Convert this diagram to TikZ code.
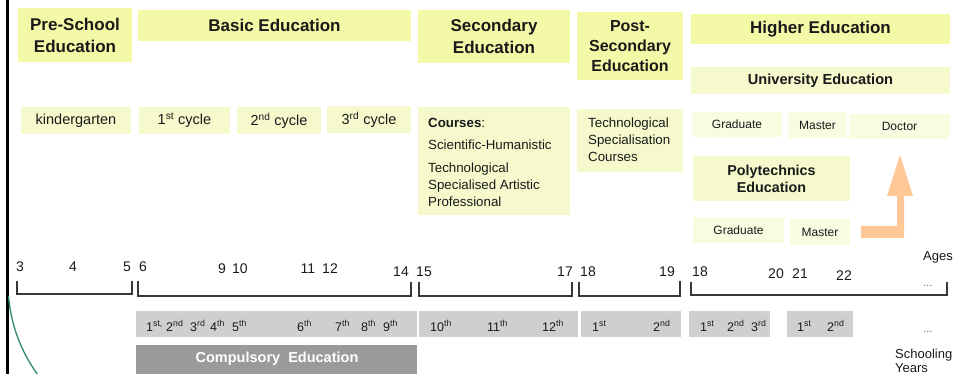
\documentclass[tikz,border=0pt]{standalone}
\usepackage{fontspec}
\setmainfont{Liberation Sans}
\definecolor{hdr}{HTML}{F3F9A6}
\definecolor{lvl}{HTML}{F5F9CC}
\definecolor{pale}{HTML}{FAFCE2}
\definecolor{barg}{HTML}{CFCFCF}
\definecolor{darkbar}{HTML}{9A9A9A}
\definecolor{arrowor}{HTML}{FFC896}
\definecolor{ink}{HTML}{1A1A1A}
\definecolor{brk}{HTML}{383838}
\definecolor{greenc}{HTML}{2E8B6A}
\newcommand\mkbox[7]{%
  \node[#6, minimum width={(#4)-(#2)}, minimum height={(#5)-(#3)}] (#1) at ({((#2)+(#4))/2},{((#3)+(#5))/2}) {#7};}
\newcommand\sps[1]{\textsuperscript{#1}}
\tikzset{
  basebox/.style={inner sep=0pt, outer sep=0pt, align=center, text=ink},
  hbox/.style={basebox, fill=hdr, font=\bfseries\fontsize{17}{22}\selectfont},
  lbox/.style={basebox, fill=lvl, font=\fontsize{14.5}{17}\selectfont},
  pbox/.style={basebox, fill=pale, font=\fontsize{12}{14}\selectfont},
  gbar/.style={basebox, fill=barg},
  dbar/.style={basebox, fill=darkbar},
  agenum/.style={inner sep=0pt, anchor=base, text=ink, font=\fontsize{14}{16}\selectfont},
  yrlab/.style={inner sep=0pt, anchor=base west, text=ink, font=\fontsize{12.5}{14}\selectfont},
  brack/.style={draw=brk, line width=1.2pt},
  txtblock/.style={inner sep=0pt, anchor=north west, align=left, text=ink, font=\fontsize{13.3}{17}\selectfont},
}
\begin{document}
\begin{tikzpicture}[x=1pt,y=-1pt]
\useasboundingbox (0,0) rectangle (954,374);
% left rule and green curve
\draw[line width=3pt] (7.5,-2) -- (7.5,376);
\draw[greenc, line width=1.3pt] (8.5,296) .. controls (12,332) and (24,356) .. (40,378);
% headers
\mkbox{pre}{18}{8}{132}{62}{hbox}{Pre-School\\Education}
\mkbox{basic}{138}{10}{411}{41}{hbox}{Basic Education}
\mkbox{sec}{418}{10}{570}{63}{hbox}{Secondary\\Education}
\mkbox{post}{577}{12}{683}{80}{hbox, font=\bfseries\fontsize{16}{20}\selectfont}{Post-\\Secondary\\Education}
\mkbox{higher}{691}{14}{950}{44}{hbox}{Higher Education}
\mkbox{uni}{691}{67}{950}{94}{lbox, font=\bfseries\fontsize{14.6}{17}\selectfont}{University Education}
% second row
\mkbox{kg}{21}{107}{131}{134}{lbox}{kindergarten}
\mkbox{c1}{139}{107}{230}{134}{lbox}{1\sps{st} cycle}
\mkbox{c2}{237}{107}{321}{134}{lbox}{2\sps{nd} cycle}
\mkbox{c3}{327}{106}{411}{133}{lbox}{3\sps{rd} cycle}
\mkbox{courses}{418}{107}{570}{215}{lbox}{}
\node[txtblock] (coursestxt) at (428,118) {\textbf{Courses}:\\[5pt]Scientific-Humanistic\\[6pt]Technological\\Specialised Artistic\\Professional};
\mkbox{techs}{577}{109}{683}{172}{lbox}{}
\node[txtblock] (techstxt) at (588,118) {Technological\\Specialisation\\Courses};
\mkbox{ugrad}{692}{112}{782}{137}{pbox}{Graduate}
\mkbox{umast}{788}{112}{847}{138}{pbox}{Master}
\mkbox{udoc}{849}{114}{950}{139}{pbox}{Doctor}
\mkbox{poly}{693}{156}{850}{201}{lbox, font=\bfseries\fontsize{14.3}{17}\selectfont}{Polytechnics\\Education}
\mkbox{pgrad}{693}{217}{784}{243}{pbox}{Graduate}
\mkbox{pmast}{790}{219}{850}{245}{pbox}{Master}
% orange arrow
\fill[arrowor] (861,226) -- (897,226) -- (897,196) -- (887,196) -- (900,155) -- (913,196) -- (904,196) -- (904,238) -- (861,238) -- cycle;
% ages
\foreach \n/\t/\x/\y in {a3/3/20/272, a4/4/73/272, a5/5/127/272, a6/6/143/272, a9/9/222/274, a10/10/240/274, a11/11/308/274, a12/12/330/274, a14/14/401/276.5, a15/15/424/276.5, a17/17/565/276.5, a18/18/588/276.5, a19/19/667/276.5, b18/18/700/276.5, a20/20/776/279, a21/21/800/279, a22/22/844/280.5}
  \node[agenum] (\n) at (\x,\y) {\t};
\node[agenum, font=\fontsize{13}{15}\selectfont] (ages) at (938,261) {Ages};
\node[agenum, text=black!60, font=\fontsize{11}{13}\selectfont] (dots1) at (928,287) {...};
% brackets
\draw[brack] (17,281) -- (17,294) -- (132,294) -- (132,281);
\draw[brack] (138,281) -- (138,296) -- (411,296) -- (411,282);
\draw[brack] (419,282) -- (419,296) -- (572,296) -- (572,282);
\draw[brack] (579,282) -- (579,296) -- (680,296) -- (680,281);
\draw[brack] (691,282) -- (691,295) -- (947,295) -- (947,282);
% schooling year bars
\mkbox{bar1}{136}{311}{417}{337}{gbar}{}
\mkbox{bar2}{419}{311}{578}{337}{gbar}{}
\mkbox{bar3}{581}{311}{681}{337}{gbar}{}
\mkbox{bar4}{689}{311}{770}{337}{gbar}{}
\mkbox{bar5}{787}{311}{853}{337}{gbar}{}
\mkbox{comp}{136}{345}{417}{378}{dbar}{}
\node[inner sep=0pt, text=white, font=\bfseries\fontsize{14.5}{16}\selectfont] (comptxt) at (277,359) {Compulsory\ \ Education};
\node[yrlab] (y1) at (146,331) {1\sps{st,}};
\node[yrlab] (y2) at (166,331) {2\sps{nd}};
\node[yrlab] (y3) at (190,331) {3\sps{rd}};
\node[yrlab] (y4) at (210,331) {4\sps{th}};
\node[yrlab] (y5) at (232,331) {5\sps{th}};
\node[yrlab] (y6) at (297,331) {6\sps{th}};
\node[yrlab] (y7) at (335,331) {7\sps{th}};
\node[yrlab] (y8) at (361,331) {8\sps{th}};
\node[yrlab] (y9) at (383,331) {9\sps{th}};
\node[yrlab] (y10) at (430,331) {10\sps{th}};
\node[yrlab] (y11) at (487,331) {11\sps{th}};
\node[yrlab] (y12) at (542,331) {12\sps{th}};
\node[yrlab] (p1) at (592,331) {1\sps{st}};
\node[yrlab] (p2) at (653,331) {2\sps{nd}};
\node[yrlab] (h1) at (700,331) {1\sps{st}};
\node[yrlab] (h2) at (727,331) {2\sps{nd}};
\node[yrlab] (h3) at (751,331) {3\sps{rd}};
\node[yrlab] (m1) at (797,331) {1\sps{st}};
\node[yrlab] (m2) at (827,331) {2\sps{nd}};
\node[agenum, text=black!60, font=\fontsize{11}{13}\selectfont] (dots2) at (928,333) {...};
\node[txtblock, font=\fontsize{13}{13.5}\selectfont] (school) at (895,349) {Schooling\\Years};
\end{tikzpicture}
\end{document}
